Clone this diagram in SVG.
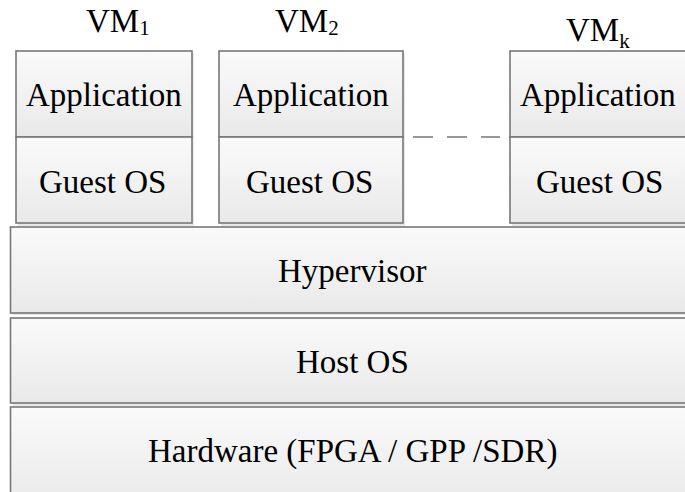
<svg xmlns="http://www.w3.org/2000/svg" width="685" height="492" viewBox="0 0 685 492">
  <defs>
    <linearGradient id="fillGrad" x1="0" y1="0" x2="0" y2="1">
      <stop offset="0" stop-color="#fafafa"/>
      <stop offset="1" stop-color="#e9e9e9"/>
    </linearGradient>
  </defs>

  <!-- VM 1 -->
  <g id="vm1">
    <rect x="18" y="53" width="176" height="173" fill="#d8d8d8" opacity="0.6"/>
    <rect x="16" y="51" width="176" height="86" fill="url(#fillGrad)" stroke="#777" stroke-width="1.6"/>
    <rect x="16" y="137" width="176" height="86" fill="url(#fillGrad)" stroke="#777" stroke-width="1.6"/>
    <text x="26" y="106" font-family="Liberation Serif" font-size="33">Application</text>
    <text x="39" y="193" font-family="Liberation Serif" font-size="33">Guest OS</text>
    <text x="86" y="32" font-family="Liberation Serif" font-size="33">VM<tspan font-size="21" dy="3">1</tspan></text>
  </g>

  <!-- VM 2 -->
  <g id="vm2">
    <rect x="221" y="53" width="184" height="173" fill="#d8d8d8" opacity="0.6"/>
    <rect x="219" y="51" width="184" height="86" fill="url(#fillGrad)" stroke="#777" stroke-width="1.6"/>
    <rect x="219" y="137" width="184" height="86" fill="url(#fillGrad)" stroke="#777" stroke-width="1.6"/>
    <text x="233" y="106" font-family="Liberation Serif" font-size="33">Application</text>
    <text x="246" y="193" font-family="Liberation Serif" font-size="33">Guest OS</text>
    <text x="275" y="32" font-family="Liberation Serif" font-size="33">VM<tspan font-size="21" dy="3">2</tspan></text>
  </g>

  <!-- VM k -->
  <g id="vmk">
    <rect x="512" y="53" width="190" height="173" fill="#d8d8d8" opacity="0.6"/>
    <rect x="510" y="51" width="190" height="86" fill="url(#fillGrad)" stroke="#777" stroke-width="1.6"/>
    <rect x="510" y="137" width="190" height="86" fill="url(#fillGrad)" stroke="#777" stroke-width="1.6"/>
    <text x="520" y="106" font-family="Liberation Serif" font-size="33">Application</text>
    <text x="536" y="193" font-family="Liberation Serif" font-size="33">Guest OS</text>
    <text x="566" y="41" font-family="Liberation Serif" font-size="33">VM<tspan font-size="21" dy="7">k</tspan></text>
  </g>

  <!-- Ellipsis between VMs -->
  <g id="connectors">
    <line x1="413" y1="137" x2="500" y2="137" stroke="#777" stroke-width="1.6" stroke-dasharray="20 14"/>
  </g>

  <!-- Hypervisor layer -->
  <g id="hypervisor">
    <rect x="12.5" y="229" width="690" height="86" fill="#d8d8d8" opacity="0.6"/>
    <rect x="10.5" y="227" width="690" height="86" fill="url(#fillGrad)" stroke="#777" stroke-width="1.6"/>
    <text x="278" y="282" font-family="Liberation Serif" font-size="33">Hypervisor</text>
  </g>

  <!-- Host OS layer -->
  <g id="hostos">
    <rect x="12.5" y="320" width="690" height="86" fill="#d8d8d8" opacity="0.6"/>
    <rect x="10.5" y="318" width="690" height="85" fill="url(#fillGrad)" stroke="#777" stroke-width="1.6"/>
    <text x="296" y="373" font-family="Liberation Serif" font-size="33">Host OS</text>
  </g>

  <!-- Hardware layer -->
  <g id="hardware">
    <rect x="10.5" y="407" width="690" height="100" fill="url(#fillGrad)" stroke="#777" stroke-width="1.6"/>
    <text x="148" y="462" font-family="Liberation Serif" font-size="33">Hardware (FPGA / GPP /SDR)</text>
  </g>
</svg>
